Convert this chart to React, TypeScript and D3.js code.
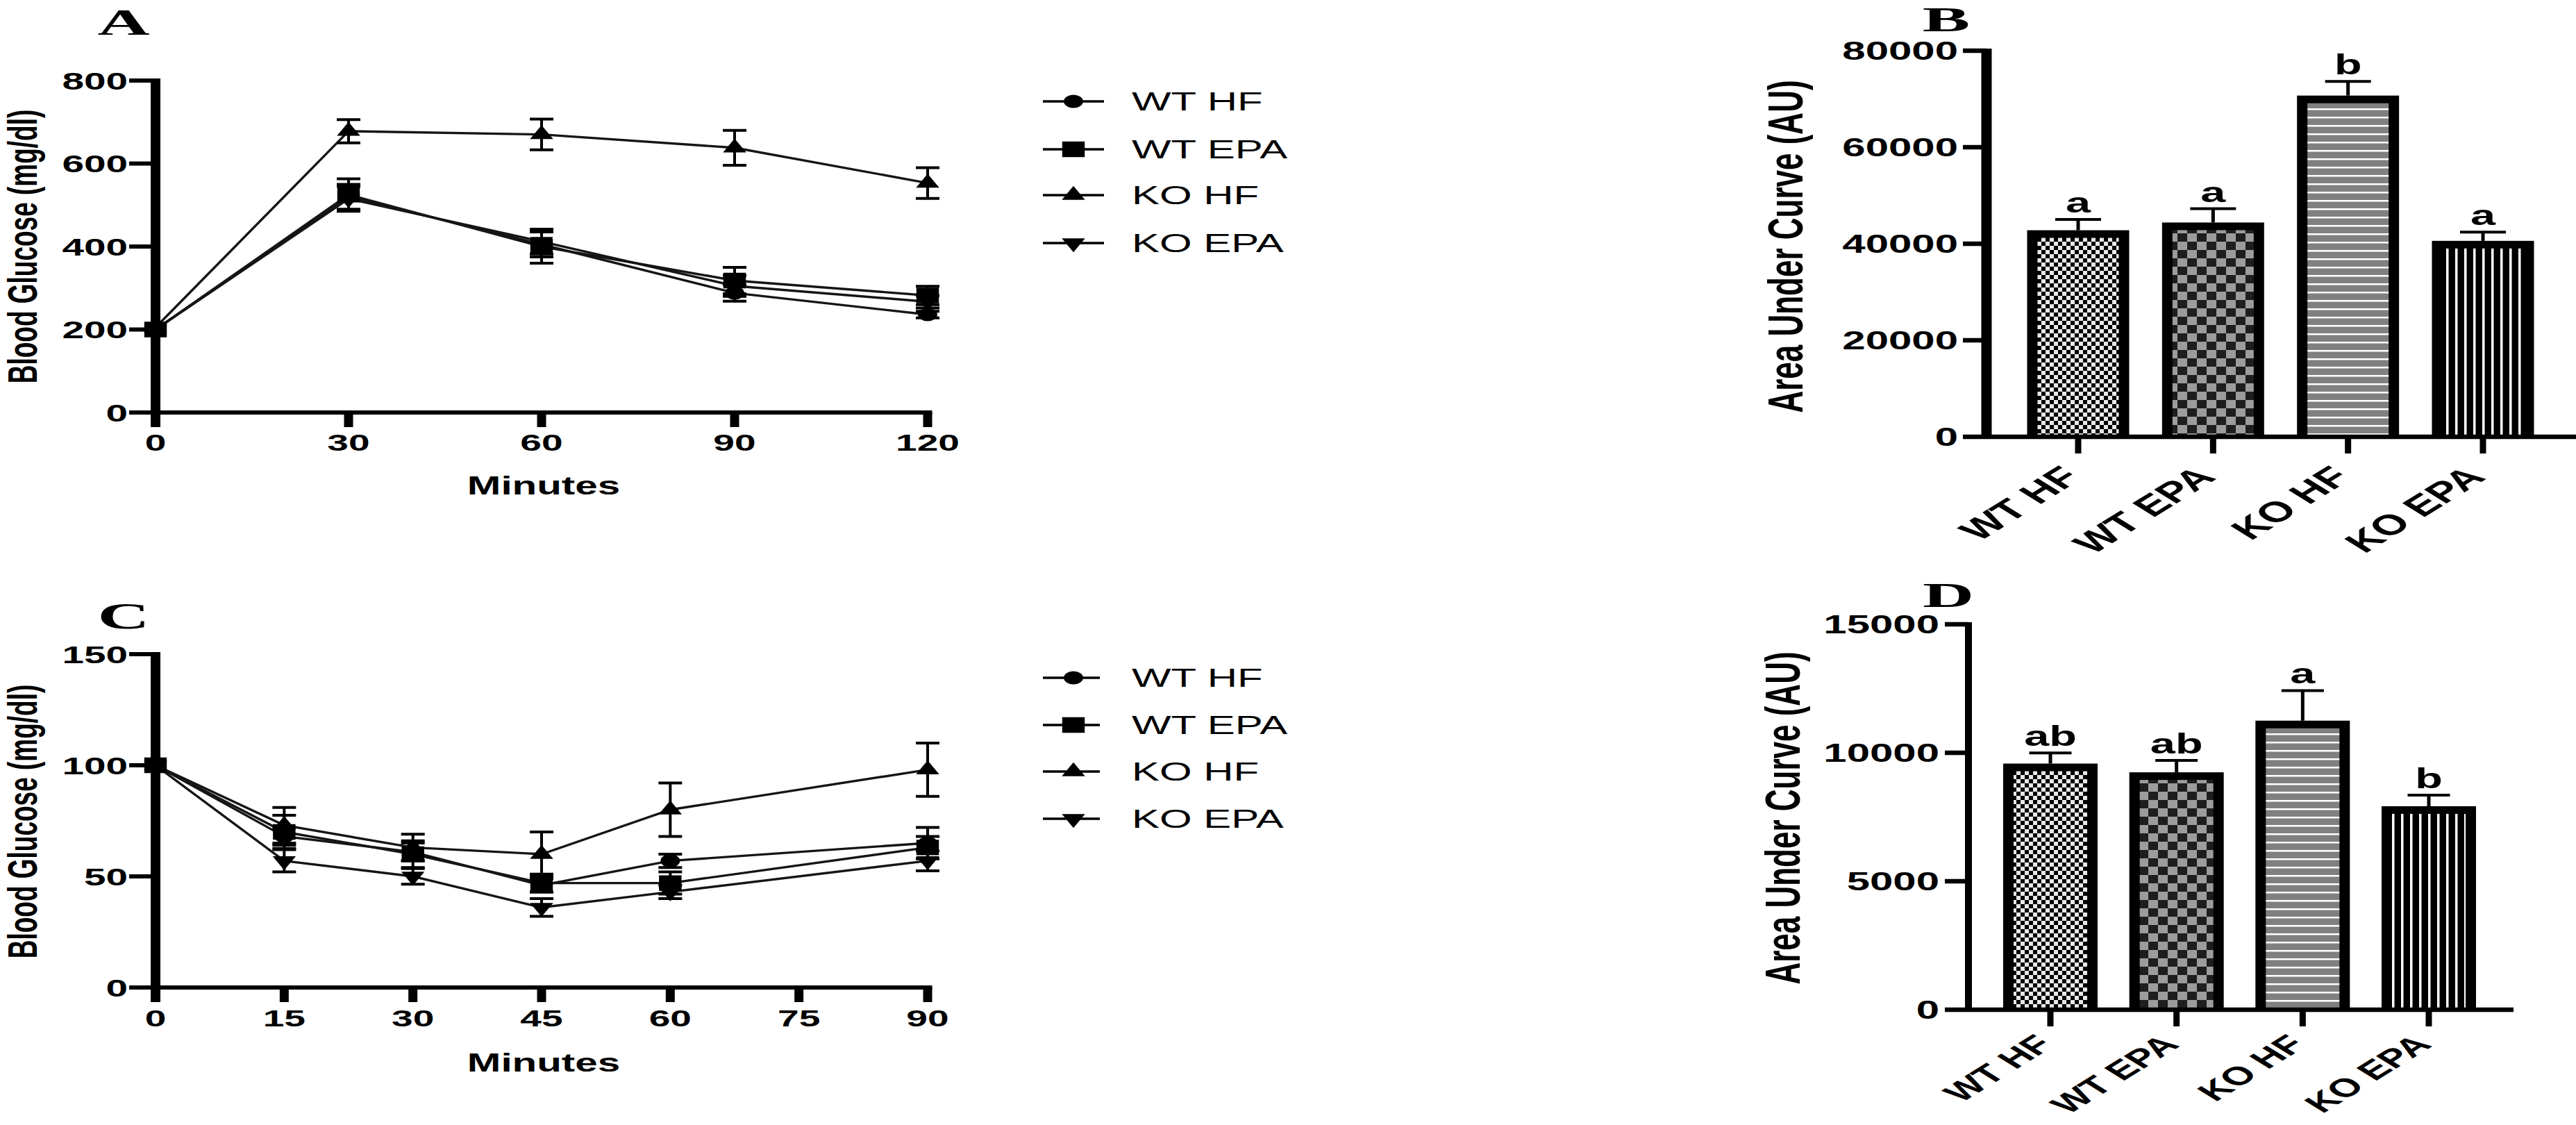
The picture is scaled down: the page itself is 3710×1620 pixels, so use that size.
import React from 'react';
import * as d3 from 'd3';

// ---------------- data ----------------
const groups = ['WT HF', 'WT EPA', 'KO HF', 'KO EPA'];
const shapes = ['circle', 'square', 'triangle', 'triangleDown'];

// Panel A – glucose tolerance
const timesA = [0, 30, 60, 90, 120];
const wtHfA = [200, 520, 405, 288, 236];
const wtHfASe = [0, 30, 30, 20, 8];
const wtEpaA = [200, 525, 400, 318, 282];
const wtEpaASe = [0, 38, 40, 32, 22];
const koHfA = [205, 678, 670, 638, 553];
const koHfASe = [0, 28, 37, 42, 37];
const koEpaA = [200, 515, 412, 305, 267];
const koEpaASe = [0, 30, 30, 25, 15];
const yTicksA = [0, 200, 400, 600, 800];

// Panel C – insulin tolerance
const timesC = [0, 15, 30, 45, 60, 90];
const xTicksC = [0, 15, 30, 45, 60, 75, 90];
const wtHfC = [100, 68, 61, 46, 57, 65];
const wtHfCSe = [0, 4, 4, 3, 3, 7];
const wtEpaC = [100, 70, 60, 47, 47, 63];
const wtEpaCSe = [0, 7.5, 6, 4, 5, 5];
const koHfC = [100, 73, 63, 60, 80, 98];
const koHfCSe = [0, 8, 6, 10, 12, 12];
const koEpaC = [100, 57, 50, 36, 43, 57];
const koEpaCSe = [0, 5, 3.5, 4, 3, 4.5];
const yTicksC = [0, 50, 100, 150];

// Panel B – AUC GTT
const aucB = [42800, 44400, 70700, 40600];
const aucBSe = [2250, 2850, 2950, 1800];
const lettersB = ['a', 'a', 'b', 'a'];
const yTicksB = [0, 20000, 40000, 60000, 80000];

// Panel D – AUC ITT
const aucD = [9580, 9240, 11250, 7920];
const aucDSe = [410, 460, 1170, 430];
const lettersD = ['ab', 'ab', 'a', 'b'];
const yTicksD = [0, 5000, 10000, 15000];

// ---------------- style ----------------
const S = 1.62; // horizontal stretch of the figure
const MS = 1.45; // marker stretch
const FONT = "'Liberation Sans', Arial, Helvetica, sans-serif";
const SERIF = "'Liberation Serif', 'Times New Roman', serif";
const patterns = ['pWtHf', 'pWtEpa', 'pKoHf', 'pKoEpa'];

function T({ x, y, children, size = 36, anchor = 'middle', weight = 'bold', family = FONT, sx = S, rot = 0 }: any) {
  return (
    <text
      transform={`translate(${x},${y}) scale(${sx},1)${rot ? ` rotate(${rot})` : ''}`}
      textAnchor={anchor}
      fontSize={size}
      fontWeight={weight}
      fontFamily={family}
      fill="#000"
    >
      {children}
    </text>
  );
}

function Marker({ shape, x, y }: any) {
  const type = shape === 'circle' ? d3.symbolCircle : shape === 'square' ? d3.symbolSquare : d3.symbolTriangle;
  const size = shape === 'circle' ? 290 : shape === 'square' ? 500 : 230;
  const d = d3.symbol().type(type).size(size)() as string;
  const rot = shape === 'triangleDown' ? ' rotate(180)' : '';
  return <path d={d} transform={`translate(${x},${y}) scale(${MS},1)${rot}`} fill="#000" />;
}

function LinePanel({ times, series, xMax, xTicks, yMax, yTicks, yTop, yBottom, tickBase, titleY, minutesBase, letter, letterBase }: any) {
  const x = d3.scaleLinear().domain([0, xMax]).range([224, 1336]);
  const y = d3.scaleLinear().domain([0, yMax]).range([yBottom, yTop]);
  return (
    <g>
      {series.map((s: any, k: number) => {
        const line = d3
          .line<number>()
          .x((_, i) => x(times[i]))
          .y((v) => y(v));
        return <path key={'l' + k} d={line(s.values) as string} fill="none" stroke="#151515" strokeWidth={3.4} />;
      })}
      {series.map((s: any, k: number) =>
        s.values.map((v: number, i: number) =>
          s.se[i] > 0 ? (
            <g key={`e${k}-${i}`} stroke="#000" strokeWidth={4}>
              <line x1={x(times[i])} x2={x(times[i])} y1={y(v - s.se[i])} y2={y(v + s.se[i])} />
              <line x1={x(times[i]) - 17} x2={x(times[i]) + 17} y1={y(v - s.se[i])} y2={y(v - s.se[i])} />
              <line x1={x(times[i]) - 17} x2={x(times[i]) + 17} y1={y(v + s.se[i])} y2={y(v + s.se[i])} />
            </g>
          ) : null
        )
      )}
      {series.map((s: any, k: number) =>
        s.values.map((v: number, i: number) => <Marker key={`m${k}-${i}`} shape={s.shape} x={x(times[i])} y={y(v)} />)
      )}
      <line x1={224} x2={224} y1={yTop - 3} y2={yBottom + 21} stroke="#000" strokeWidth={14} />
      <line x1={224} x2={x(xMax) + 6.5} y1={yBottom} y2={yBottom} stroke="#000" strokeWidth={6} />
      {yTicks.map((t: number) => (
        <g key={'yt' + t}>
          <line x1={186} x2={224} y1={y(t)} y2={y(t)} stroke="#000" strokeWidth={6} />
          <T x={184} y={y(t) + 12.5} size={35} anchor="end">
            {t}
          </T>
        </g>
      ))}
      {xTicks.map((t: number) => (
        <g key={'xt' + t}>
          <line x1={x(t)} x2={x(t)} y1={yBottom} y2={yBottom + 21} stroke="#000" strokeWidth={13} />
          <T x={x(t)} y={tickBase} size={34}>
            {t}
          </T>
        </g>
      ))}
      <T x={53} y={titleY} size={37} rot={-90}>
        Blood Glucose (mg/dl)
      </T>
      <T x={783} y={minutesBase} size={36}>
        Minutes
      </T>
      <T x={178} y={letterBase} size={52} family={SERIF} sx={2.0}>
        {letter}
      </T>
    </g>
  );
}

function Legend({ rows, lineEnd }: any) {
  return (
    <g>
      {groups.map((g, i) => (
        <g key={g}>
          <line x1={1502} x2={lineEnd} y1={rows[i]} y2={rows[i]} stroke="#000" strokeWidth={3.5} />
          <Marker shape={shapes[i]} x={1546} y={rows[i]} />
          <T x={1630} y={rows[i] + 13} size={37} anchor="start" weight="normal">
            {g}
          </T>
        </g>
      ))}
    </g>
  );
}

function BarPanel({ values, se, letters, yMax, yTicks, yTop, yBottom, axisX, axisW, xEnd, centers, barW, capW, labelRight, labelSize, labelOffset, letter, letterX, letterBase, titleX, titleY }: any) {
  const y = d3.scaleLinear().domain([0, yMax]).range([yBottom, yTop]);
  const x = d3.scalePoint<string>().domain(groups).range(centers);
  return (
    <g>
      {groups.map((g, i) => {
        const cx = x(g) as number;
        const top = y(values[i]);
        const eTop = y(values[i] + se[i]);
        return (
          <g key={g}>
            <line x1={cx} x2={cx} y1={top} y2={eTop} stroke="#000" strokeWidth={5} />
            <line x1={cx - capW / 2} x2={cx + capW / 2} y1={eTop} y2={eTop} stroke="#000" strokeWidth={4} />
            <rect x={cx - barW / 2} y={top} width={barW} height={yBottom - top} fill="#000" />
            <rect x={cx - barW / 2 + 15} y={top + 11} width={barW - 30} height={yBottom - top - 11} fill={`url(#${patterns[i]})`} />
            <line x1={cx} x2={cx} y1={yBottom} y2={yBottom + 24} stroke="#000" strokeWidth={9} />
            <T x={cx} y={eTop - 10} size={40}>
              {letters[i]}
            </T>
            <T x={cx + 6} y={yBottom + labelOffset} size={labelSize} anchor="end" rot={-45}>
              {g}
            </T>
          </g>
        );
      })}
      <line x1={axisX} x2={axisX} y1={yTop - 3} y2={yBottom + 3} stroke="#000" strokeWidth={axisW} />
      <line x1={axisX} x2={xEnd} y1={yBottom} y2={yBottom} stroke="#000" strokeWidth={6.5} />
      {yTicks.map((t: number) => (
        <g key={t}>
          <line x1={axisX - 34} x2={axisX} y1={y(t)} y2={y(t)} stroke="#000" strokeWidth={6.5} />
          <T x={labelRight} y={y(t) + 13} size={37} anchor="end">
            {t}
          </T>
        </g>
      ))}
      <T x={titleX} y={titleY} size={44} rot={-90}>
        Area Under Curve (AU)
      </T>
      <T x={letterX} y={letterBase} size={50} family={SERIF} sx={2.05}>
        {letter}
      </T>
    </g>
  );
}

export default function App() {
  const seriesA = [
    { values: wtHfA, se: wtHfASe, shape: 'circle' },
    { values: koHfA, se: koHfASe, shape: 'triangle' },
    { values: koEpaA, se: koEpaASe, shape: 'triangleDown' },
    { values: wtEpaA, se: wtEpaASe, shape: 'square' },
  ];
  const seriesC = [
    { values: wtHfC, se: wtHfCSe, shape: 'circle' },
    { values: koHfC, se: koHfCSe, shape: 'triangle' },
    { values: koEpaC, se: koEpaCSe, shape: 'triangleDown' },
    { values: wtEpaC, se: wtEpaCSe, shape: 'square' },
  ];
  return (
    <svg width={3710} height={1620} style={{ position: 'absolute', left: 0, top: 0, background: '#fff' }}>
      <defs>
        <pattern id="pWtHf" patternUnits="userSpaceOnUse" width={12} height={12}>
          <rect width={12} height={12} fill="#e8e8e8" />
          <rect width={6} height={6} fill="#000" />
          <rect x={6} y={6} width={6} height={6} fill="#000" />
        </pattern>
        <pattern id="pWtEpa" patternUnits="userSpaceOnUse" width={28} height={24}>
          <rect width={28} height={24} fill="#9c9c9c" />
          <rect width={14} height={12} fill="#1e1e1e" />
          <rect x={14} y={12} width={14} height={12} fill="#1e1e1e" />
        </pattern>
        <pattern id="pKoHf" patternUnits="userSpaceOnUse" width={20} height={12}>
          <rect width={20} height={12} fill="#808080" />
          <rect y={0} width={20} height={2.5} fill="#fff" />
        </pattern>
        <pattern id="pKoEpa" patternUnits="userSpaceOnUse" width={13} height={20}>
          <rect width={13} height={20} fill="#000" />
          <rect x={0} width={3.5} height={20} fill="#fff" />
        </pattern>
      </defs>
      <rect width={3710} height={1620} fill="#fff" />

      <LinePanel
        times={timesA}
        series={seriesA}
        xMax={120}
        xTicks={timesA}
        yMax={800}
        yTicks={yTicksA}
        yTop={116}
        yBottom={594}
        tickBase={649}
        titleY={355}
        minutesBase={712}
        letter="A"
        letterBase={50}
      />
      <Legend rows={[146, 215, 281, 350]} lineEnd={1590} />

      <LinePanel
        times={timesC}
        series={seriesC}
        xMax={90}
        xTicks={xTicksC}
        yMax={150}
        yTicks={yTicksC}
        yTop={942}
        yBottom={1422}
        tickBase={1478}
        titleY={1183}
        minutesBase={1543}
        letter="C"
        letterBase={905}
      />
      <Legend rows={[976, 1044, 1111, 1179]} lineEnd={1584} />

      <BarPanel
        values={aucB}
        se={aucBSe}
        letters={lettersB}
        yMax={80000}
        yTicks={yTicksB}
        yTop={73}
        yBottom={629}
        axisX={2861}
        axisW={15}
        xEnd={3710}
        centers={[2993, 3576]}
        barW={147}
        capW={66}
        labelRight={2820}
        labelSize={41}
        labelOffset={60}
        letter="B"
        letterX={2803}
        letterBase={45}
        titleX={2596}
        titleY={355}
      />
      <BarPanel
        values={aucD}
        se={aucDSe}
        letters={lettersD}
        yMax={15000}
        yTicks={yTicksD}
        yTop={899}
        yBottom={1454}
        axisX={2835}
        axisW={10}
        xEnd={3620}
        centers={[2953, 3498]}
        barW={136}
        capW={61}
        labelRight={2793}
        labelSize={37}
        labelOffset={52}
        letter="D"
        letterX={2806}
        letterBase={874}
        titleX={2592}
        titleY={1178}
      />
    </svg>
  );
}
